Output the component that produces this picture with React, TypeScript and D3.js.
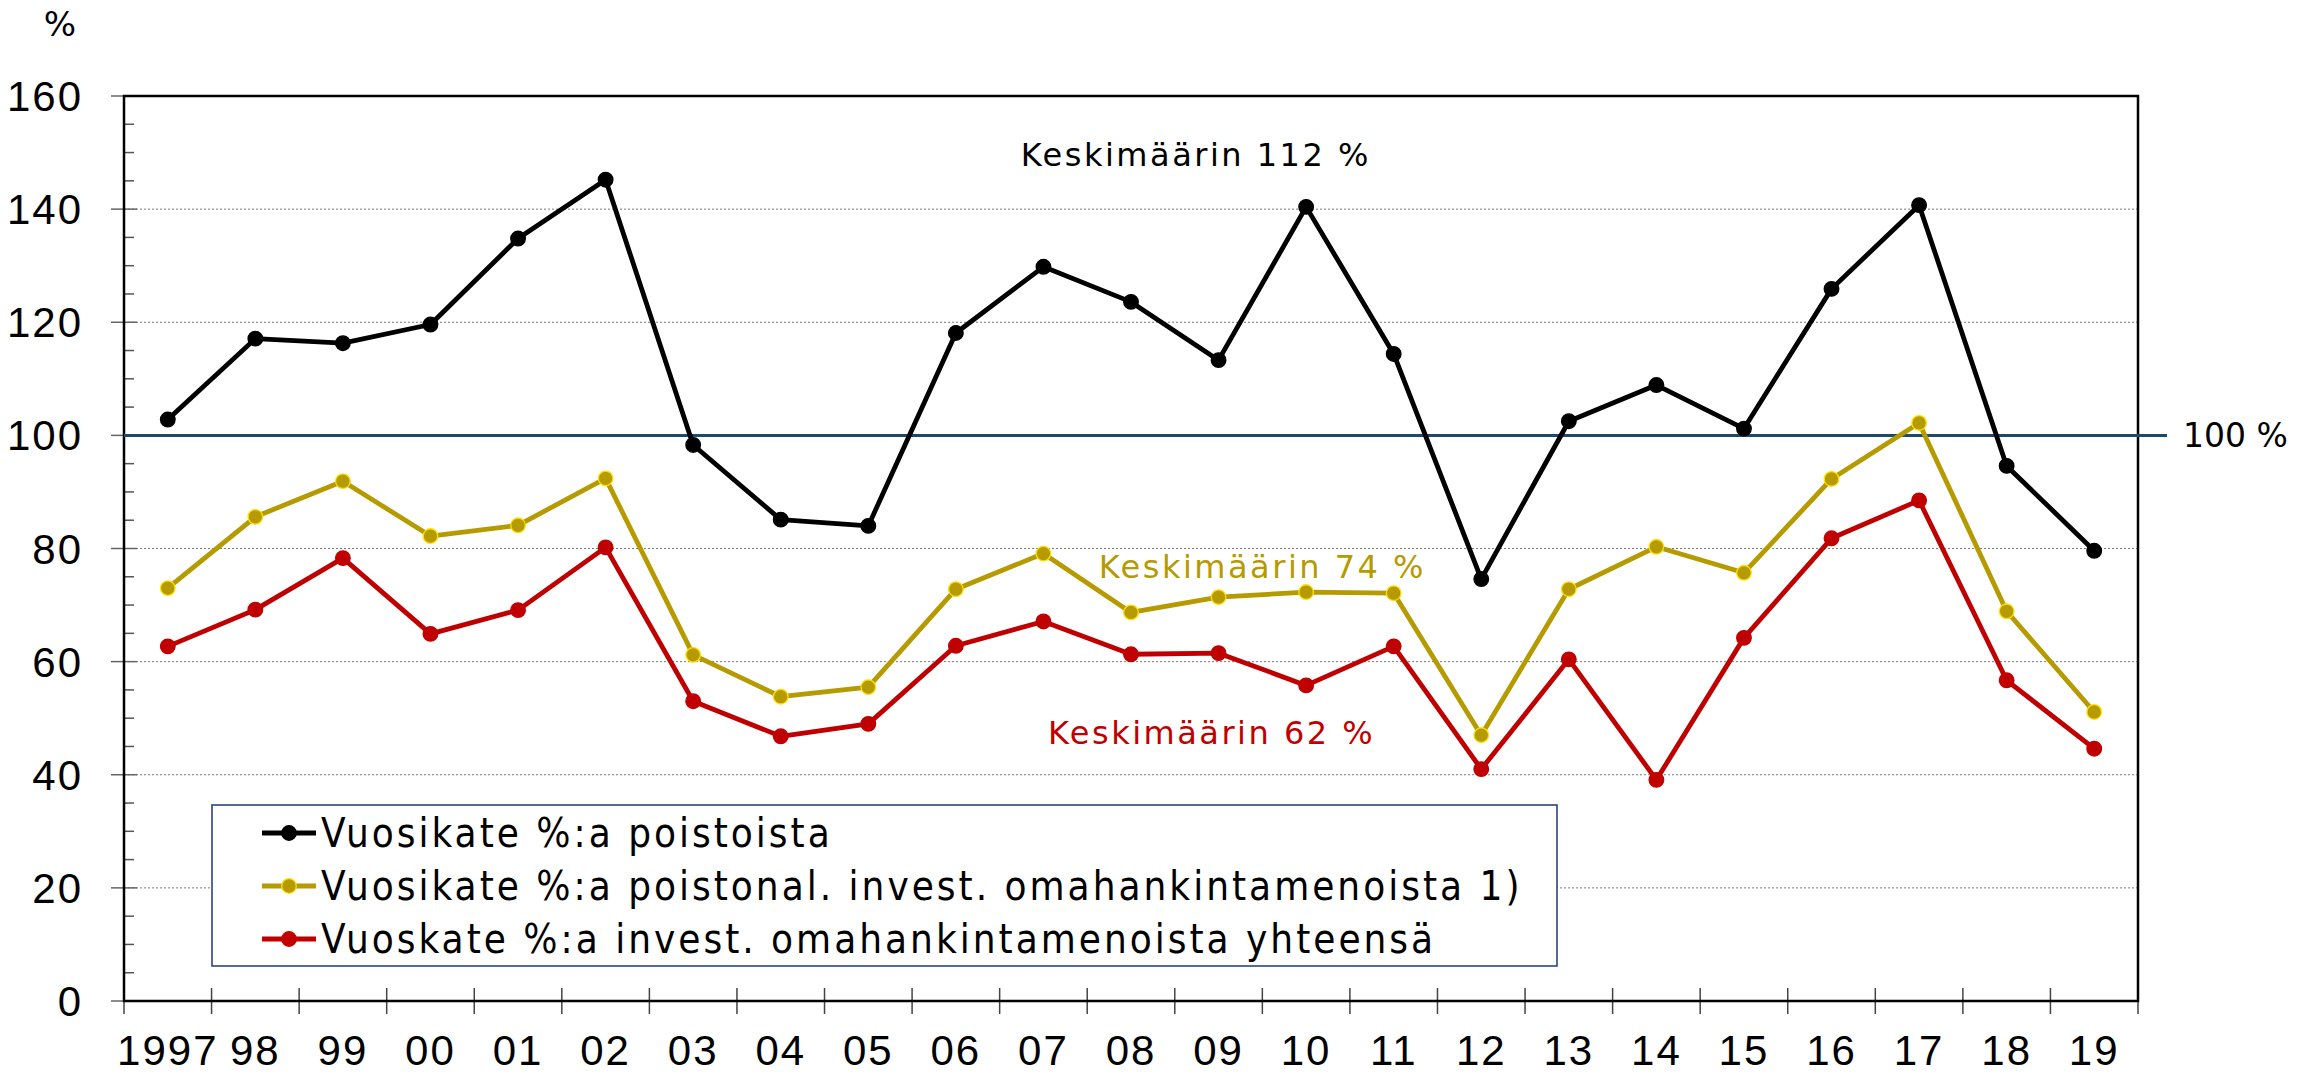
import React, { useEffect, useRef } from 'react'
import * as d3 from 'd3'

// years on the x axis
const years = ['1997', '98', '99', '00', '01', '02', '03', '04', '05', '06', '07', '08', '09', '10', '11', '12', '13', '14', '15', '16', '17', '18', '19']

// Vuosikate %:a poistoista
const poistoista = [102.8, 117.1, 116.3, 119.6, 134.8, 145.2, 98.3, 85.1, 84.0, 118.1, 129.8, 123.6, 113.3, 140.4, 114.4, 74.6, 102.5, 108.9, 101.2, 125.9, 140.7, 94.6, 79.6]
// Vuosikate %:a poistonal. invest. omahankintamenoista
const poistonal = [73.0, 85.6, 91.9, 82.2, 84.1, 92.4, 61.2, 53.8, 55.5, 72.8, 79.1, 68.7, 71.4, 72.3, 72.1, 47.0, 72.8, 80.3, 75.7, 92.3, 102.2, 68.9, 51.1]
// Vuoskate %:a invest. omahankintamenoista yhteensä
const yhteensa = [62.7, 69.2, 78.3, 64.9, 69.1, 80.2, 53.0, 46.8, 49.0, 62.8, 67.1, 61.3, 61.5, 55.8, 62.7, 41.0, 60.4, 39.1, 64.2, 81.8, 88.5, 56.7, 44.6]

const yTicks = [0, 20, 40, 60, 80, 100, 120, 140, 160]

const series = [
  { name: 'Vuosikate %:a poistoista', values: poistoista, color: '#000000', edge: '#000000' },
  { name: 'Vuosikate %:a poistonal. invest. omahankintamenoista 1)', values: poistonal, color: '#b59a00', edge: '#ffe000' },
  { name: 'Vuoskate %:a invest. omahankintamenoista yhteensä', values: yhteensa, color: '#c00000', edge: '#c00000' },
]

// average labels: position in category steps and value units
const notes = [
  { text: 'Keskimäärin 112 %', x: 12.24, y: 149.6, color: '#000000' },
  { text: 'Keskimäärin 74 %', x: 13.0, y: 76.9, color: '#b59a00' },
  { text: 'Keskimäärin 62 %', x: 12.42, y: 47.4, color: '#c00000' },
]

const W = 2309
const H = 1073
const tickFont = '"Liberation Sans Narrow", "Liberation Sans", sans-serif'
const textFont = '"DejaVu Sans Condensed", "DejaVu Sans", sans-serif'

export default function App() {
  const ref = useRef<SVGSVGElement>(null)

  useEffect(() => {
    const svg = d3.select(ref.current!)
    svg.selectAll('*').remove()

    const left = 124, right = 2138, top = 96, bottom = 1001

    const x = d3.scaleBand<string>().domain(years).range([left, right])
    const y = d3.scaleLinear().domain([0, 160]).range([bottom, top])
    const cx = (i: number) => x(years[i])! + x.bandwidth() / 2

    // gridlines
    svg.append('g')
      .selectAll('line')
      .data(yTicks.filter(t => t > 0 && t < 160 && t !== 100))
      .join('line')
      .attr('x1', left).attr('x2', right)
      .attr('y1', d => y(d)).attr('y2', d => y(d))
      .attr('stroke', '#7a7a7a')
      .attr('stroke-width', 1)
      .attr('stroke-dasharray', '2,2')

    // minor y ticks (inside)
    svg.append('g')
      .selectAll('line')
      .data(d3.range(5, 160, 5).filter(v => v % 20 !== 0))
      .join('line')
      .attr('x1', left).attr('x2', left + 10)
      .attr('y1', d => y(d)).attr('y2', d => y(d))
      .attr('stroke', '#555')
      .attr('stroke-width', 1.5)

    // major y ticks
    svg.append('g')
      .selectAll('line')
      .data(yTicks)
      .join('line')
      .attr('x1', left - 13).attr('x2', left + 13)
      .attr('y1', d => y(d)).attr('y2', d => y(d))
      .attr('stroke', '#666')
      .attr('stroke-width', 1.5)

    // y tick labels
    svg.append('g')
      .selectAll('text')
      .data(yTicks)
      .join('text')
      .attr('x', 83)
      .attr('y', d => y(d))
      .attr('dy', '0.36em')
      .attr('text-anchor', 'end')
      .style('font-family', tickFont)
      .style('font-size', '42px')
      .style('letter-spacing', '2px')
      .text(d => d)

    // x ticks at band edges
    const edges = years.map(yr => x(yr)!).concat([right])
    svg.append('g')
      .selectAll('line')
      .data(edges)
      .join('line')
      .attr('x1', d => d).attr('x2', d => d)
      .attr('y1', (_d, i) => (i === 0 ? bottom : bottom - 13))
      .attr('y2', bottom + 13)
      .attr('stroke', '#444')
      .attr('stroke-width', 1.5)

    // x labels
    svg.append('g')
      .selectAll('text')
      .data(years)
      .join('text')
      .attr('x', d => x(d)! + x.bandwidth() / 2)
      .attr('y', 1065)
      .attr('text-anchor', 'middle')
      .style('font-family', tickFont)
      .style('font-size', '42px')
      .style('letter-spacing', '2px')
      .text(d => d)

    // frame
    svg.append('path')
      .attr('d', `M${left},${bottom}V${top}H${right}V${bottom}Z`)
      .attr('fill', 'none')
      .attr('stroke', '#000')
      .attr('stroke-width', 2.5)

    // 100 % reference line
    svg.append('line')
      .attr('x1', left).attr('x2', 2167)
      .attr('y1', y(100)).attr('y2', y(100))
      .attr('stroke', '#1b4a6e')
      .attr('stroke-width', 3)
    svg.append('text')
      .attr('x', 2183)
      .attr('y', y(100))
      .attr('dy', '0.36em')
      .style('font-family', '"DejaVu Sans", sans-serif')
      .style('font-size', '33px')
      .text('100 %')

    // series lines + markers
    const line = d3.line<number>().x((_d, i) => cx(i)).y(d => y(d))
    series.forEach(s => {
      svg.append('path')
        .datum(s.values)
        .attr('d', line)
        .attr('fill', 'none')
        .attr('stroke', s.color)
        .attr('stroke-width', 4.8)
        .attr('stroke-linejoin', 'round')
      svg.append('g')
        .selectAll('circle')
        .data(s.values)
        .join('circle')
        .attr('cx', (_d, i) => cx(i))
        .attr('cy', d => y(d))
        .attr('r', 7.3)
        .attr('fill', s.color)
        .attr('stroke', s.edge)
        .attr('stroke-width', 1.3)
    })

    // average notes
    svg.append('g')
      .selectAll('text')
      .data(notes)
      .join('text')
      .attr('x', d => left + d.x * x.step())
      .attr('y', d => y(d.y))
      .attr('dy', '0.36em')
      .attr('text-anchor', 'middle')
      .attr('fill', d => d.color)
      .style('font-family', '"DejaVu Sans", sans-serif')
      .style('font-size', '32px')
      .style('letter-spacing', '2.5px')
      .text(d => d.text)

    // "%" unit label
    svg.append('text')
      .attr('x', 60).attr('y', 24)
      .attr('dy', '0.36em')
      .attr('text-anchor', 'middle')
      .style('font-family', '"DejaVu Sans", sans-serif')
      .style('font-size', '34px')
      .text('%')

    // legend
    const lg = svg.append('g')
    lg.append('rect')
      .attr('x', 212).attr('y', 805)
      .attr('width', 1345).attr('height', 161)
      .attr('fill', '#fff')
      .attr('stroke', '#1f3a7a')
      .attr('stroke-width', 1.5)
    const rows = lg.selectAll('g')
      .data(series)
      .join('g')
      .attr('transform', (_d, i) => `translate(0,${833 + i * 53})`)
    rows.append('line')
      .attr('x1', 262).attr('x2', 316)
      .attr('stroke', d => d.color)
      .attr('stroke-width', 4.8)
    rows.append('circle')
      .attr('cx', 289).attr('r', 7.3)
      .attr('fill', d => d.color)
      .attr('stroke', d => d.edge)
      .attr('stroke-width', 1.3)
    rows.append('text')
      .attr('x', 321)
      .attr('dy', '0.36em')
      .style('font-family', textFont)
      .style('font-size', '40px')
      .style('letter-spacing', '3px')
      .text(d => d.name)
  }, [])

  return (
    <svg
      ref={ref}
      width={W}
      height={H}
      style={{ position: 'absolute', left: 0, top: 0, background: '#fff' }}
    />
  )
}
